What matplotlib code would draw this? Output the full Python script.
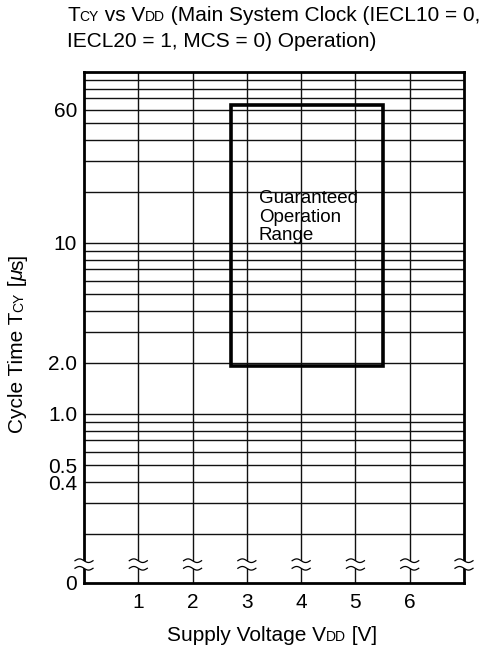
import numpy as np
import matplotlib
matplotlib.use("Agg")
import matplotlib.pyplot as plt
from matplotlib.transforms import IdentityTransform
from matplotlib.lines import Line2D
from matplotlib.patches import Rectangle, Polygon
from matplotlib.ticker import NullLocator

plt.rcParams['font.family'] = ['Liberation Sans', 'DejaVu Sans']

# ---------------- data ----------------
x_limits = [0, 7]
x_tick_values = [1, 2, 3, 4, 5, 6]
x_break_values = [0, 1, 2, 3, 4, 5, 6, 7]
y_limits = [0.1027, 100]
y_tick_values = [0.1027, 0.4, 0.5, 1.0, 2.0, 10, 60]
y_tick_labels = ['0', '0.4', '0.5', '1.0', '2.0', '10', '60']
y_grid_values = [0.2, 0.3, 0.4, 0.5, 0.6, 0.7, 0.8, 0.9,
                 1, 2, 3, 4, 5, 6, 7, 8, 9,
                 10, 20, 30, 40, 50, 60, 70, 80, 90]
range_vdd = [2.7, 5.5]      # V
range_tcy = [1.9, 64]       # us
range_label_lines = ["Guaranteed", "Operation", "Range"]

W, H = 489, 651
fig = plt.figure(figsize=(W / 100, H / 100), dpi=100)
ax = fig.add_axes([84 / W, (H - 583) / H, 380 / W, 511 / H])

ax.set_xscale('linear')
ax.set_yscale('log')
ax.set_xlim(*x_limits)
ax.set_ylim(*y_limits)
ax.set_xticks(x_tick_values)
ax.set_xticklabels([str(v) for v in x_tick_values])
ax.set_yticks(y_tick_values)
ax.set_yticklabels(y_tick_labels)
ax.yaxis.set_minor_locator(NullLocator())
ax.xaxis.set_minor_locator(NullLocator())
ax.tick_params(axis='both', length=0, labelsize=15, colors='black')
ax.tick_params(axis='x', pad=7.5)
ax.tick_params(axis='y', pad=5)

for v in y_grid_values:
    ax.axhline(v, color='#111111', lw=1.0, zorder=1)
for v in x_tick_values:
    ax.axvline(v, color='#111111', lw=1.0, zorder=1)
for s in ax.spines.values():
    s.set_linewidth(2.0)
    s.set_color('black')

ax.add_patch(Rectangle((range_vdd[0], range_tcy[0]),
                       range_vdd[1] - range_vdd[0],
                       range_tcy[1] - range_tcy[0],
                       fill=False, ec='black', lw=2.6, zorder=3))

renderer = fig.canvas.get_renderer()


def rich_text(x_px, y_top_px, pieces, rotation=0):
    x = x_px
    y = H - y_top_px
    for s, size, style in pieces:
        t = fig.text(x, y, s, fontsize=size, fontstyle=style,
                     transform=IdentityTransform(), ha='left', va='baseline',
                     rotation=rotation, rotation_mode='anchor', color='black')
        bb = t.get_window_extent(renderer)
        if rotation == 0:
            x += bb.width
        else:
            y += bb.height


# label inside rectangle
for i, line in enumerate(range_label_lines):
    fig.text(259, H - (203 + i * 18.7), line, fontsize=13.5,
             transform=IdentityTransform(), ha='left', va='baseline')

# title
rich_text(67, 21, [("T", 15, 'normal'), ("CY", 10, 'normal'),
                   (" vs V", 15, 'normal'), ("DD", 10, 'normal'),
                   (" (Main System Clock (IECL10 = 0,", 15, 'normal')])
rich_text(67, 47, [("IECL20 = 1, MCS = 0) Operation)", 15, 'normal')])

# x label
rich_text(167, 641, [("Supply Voltage V", 15, 'normal'), ("DD", 10, 'normal'),
                     (" [V]", 15, 'normal')])

# y label
rich_text(23, 433, [("Cycle Time T", 15, 'normal'), ("CY", 10, 'normal'),
                    (" [", 15, 'normal'), ("\u03bc", 15, 'italic'),
                    ("s]", 15, 'normal')], rotation=90)

# axis break marks on every vertical line
yc = H - 564.5
t = np.linspace(-9, 9, 40)
wave = -1.8 * np.sin(np.pi * t / 9)
for xv in x_break_values:
    xd = ax.transData.transform((xv, 1.0))[0]
    up = yc + 3.8 + wave
    lo = yc - 3.8 + wave
    poly = Polygon(np.column_stack([np.r_[xd + t, (xd + t)[::-1]],
                                    np.r_[up, lo[::-1]]]),
                   closed=True, fc='white', ec='none',
                   transform=IdentityTransform(), zorder=5)
    fig.add_artist(poly)
    for yy in (up, lo):
        fig.add_artist(Line2D(xd + t, yy, color='black', lw=0.9,
                              transform=IdentityTransform(), zorder=6))

fig.savefig("out.png", dpi=100)
